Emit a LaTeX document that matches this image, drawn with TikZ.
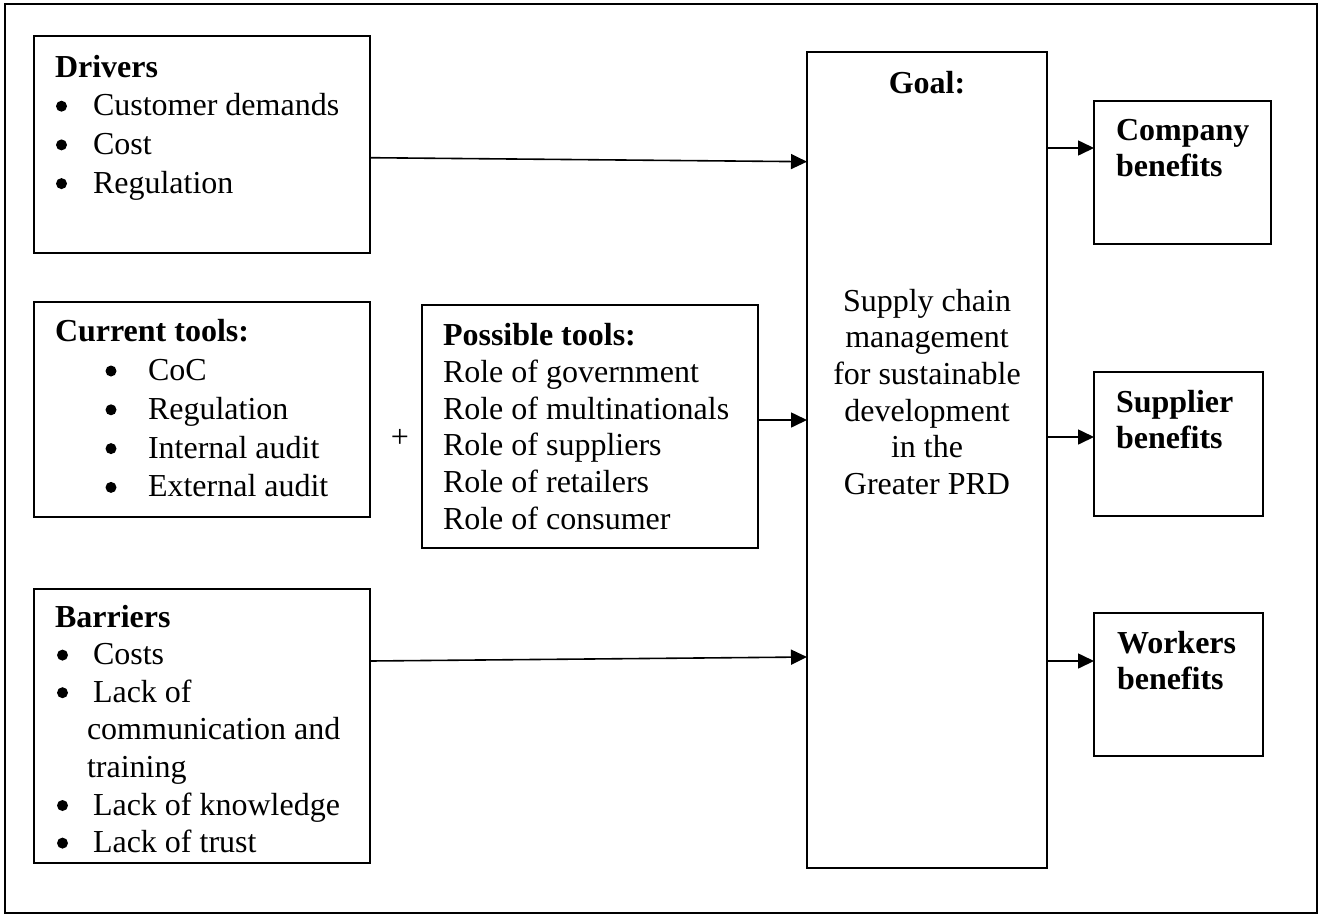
\documentclass[tikz,border=0pt]{standalone}
\usepackage{fontspec}
\setmainfont{Liberation Serif}
\usetikzlibrary{arrows.meta}
% stacked lines with a fixed baseline distance; the box baseline is the first line
\newcommand\leftstack[2]{\vtop{\baselineskip=#1\relax\lineskiplimit=-100pt\relax\halign{##\hfil\cr#2\crcr}}}
\newcommand\centerstack[2]{\vtop{\baselineskip=#1\relax\lineskiplimit=-100pt\relax\halign{\hfil##\hfil\cr#2\crcr}}}
\begin{document}
\begin{tikzpicture}[x=1pt,y=-1pt,
  box/.style={draw,line width=1.6pt,rectangle,inner sep=0pt,outer sep=0pt,anchor=north west},
  txt/.style={inner sep=0pt,outer sep=0pt,font=\fontsize{32}{36.7}\selectfont},
  arr/.style={line width=1.6pt,-{Triangle[length=16pt,width=15pt]}}]
\useasboundingbox (0,0) rectangle (1322,916);

% outer frame
\node[box,line width=1.4pt,minimum width=1312pt,minimum height=909pt] (frame) at (5,4) {};

% boxes
\node[box,minimum width=336pt,minimum height=217pt] (drivers)  at (34,36)   {};
\node[box,minimum width=336pt,minimum height=215pt] (current)  at (34,302)  {};
\node[box,minimum width=336pt,minimum height=274pt] (barriers) at (34,589)  {};
\node[box,minimum width=336pt,minimum height=243pt] (possible) at (422,305) {};
\node[box,minimum width=240pt,minimum height=816pt] (goal)     at (807,52)  {};
\node[box,minimum width=177pt,minimum height=143pt] (company)  at (1094,101) {};
\node[box,minimum width=169pt,minimum height=144pt] (supplier) at (1094,372) {};
\node[box,minimum width=169pt,minimum height=143pt] (workers)  at (1094,613) {};

% box texts
\node[txt,anchor=base west] (tdrivers) at (55,77) {\leftstack{38.7pt}{%
  \textbf{Drivers}\cr
  \hskip38pt Customer demands\cr
  \hskip38pt Cost\cr
  \hskip38pt Regulation}};
\node[txt,anchor=base west] (tcurrent) at (55,341.7) {\leftstack{38.8pt}{%
  \textbf{Current tools:}\cr
  \hskip93pt CoC\cr
  \hskip93pt Regulation\cr
  \hskip93pt Internal audit\cr
  \hskip93pt External audit}};
\node[txt,anchor=base west] (tbarriers) at (55,627) {\leftstack{37.6pt}{%
  \textbf{Barriers}\cr
  \hskip38pt Costs\cr
  \hskip38pt Lack of\cr
  \hskip32pt communication and\cr
  \hskip32pt training\cr
  \hskip38pt Lack of knowledge\cr
  \hskip38pt Lack of trust}};
\node[txt,anchor=base west] (tpossible) at (443,345.7) {\leftstack{36.7pt}{%
  \textbf{Possible tools:}\cr
  Role of government\cr
  Role of multinationals\cr
  Role of suppliers\cr
  Role of retailers\cr
  Role of consumer}};
\node[txt,anchor=base] (tgoal) at (927,93) {\textbf{Goal:}};
\node[txt,anchor=base] (tgoalbody) at (927,311) {\centerstack{36.7pt}{%
  Supply chain\cr
  management\cr
  for sustainable\cr
  development\cr
  in the\cr
  Greater PRD}};
\node[txt,anchor=base west] (tcompany) at (1116,140) {\leftstack{36.7pt}{%
  \textbf{Company}\cr\textbf{benefits}}};
\node[txt,anchor=base west] (tsupplier) at (1116,412) {\leftstack{36.7pt}{%
  \textbf{Supplier}\cr\textbf{benefits}}};
\node[txt,anchor=base west] (tworkers) at (1117,653) {\leftstack{36.7pt}{%
  \textbf{Workers}\cr\textbf{benefits}}};
\node[txt] (plus) at (400,438) {+};

% list bullets
\foreach \bx/\by in {61.5/106.2, 61.5/144.9, 61.5/183.6,
                     111/371, 111/409.8, 111/448.6, 111/487.4,
                     62.5/655.1, 62.5/692.7, 62.5/805.5, 62.5/843.1}
  \fill (\bx,\by) circle[radius=5.5pt];

% connectors
\draw[arr] ([yshift=-13.2pt]drivers.east) -- ([yshift=298.3pt]goal.west);
\draw[arr] ([yshift=6.5pt]possible.east) -- ([yshift=40pt]goal.west);
\draw[arr] ([yshift=65pt]barriers.east) -- ([yshift=-197pt]goal.west);
\draw[arr] ([yshift=312pt]goal.east) -- ([yshift=24.5pt]company.west);
\draw[arr] ([yshift=23pt]goal.east) -- ([yshift=7pt]supplier.west);
\draw[arr] ([yshift=-201pt]goal.east) -- ([yshift=23.5pt]workers.west);
\end{tikzpicture}
\end{document}
